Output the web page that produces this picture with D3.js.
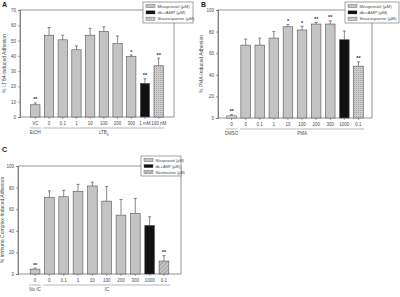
<!DOCTYPE html>
<html>
<head>
<meta charset="utf-8">
<script src="https://cdn.jsdelivr.net/npm/d3@7"></script>
<style>
  body { margin: 0; background: #fff; }
  svg { display: block; font-family: "Liberation Sans", Arial, sans-serif; }
</style>
</head>
<body>
<svg width="400" height="297"></svg>
<script>
// Panel A - LTB4
const labelsA = ["VC", "0", "0.1", "1", "10", "100", "200", "300", "1 mM", "100 nM"];
const valuesA = [8, 53.5, 50.5, 44, 53.5, 56, 48, 39.5, 22, 33.5];
const errorsA = [1.2, 5, 3, 2.5, 4.5, 3, 5, 1, 3, 5];
const signifA = ["**", "", "", "", "", "", "", "*", "**", "**"];
const kindsA = ["m", "m", "m", "m", "m", "m", "m", "m", "d", "s"];
const ticksA = [0, 10, 20, 30, 40, 50, 60, 70];

// Panel B - PMA
const labelsB = ["0", "0", "0.1", "1", "10", "100", "200", "300", "1000", "0.1"];
const valuesB = [2, 67.5, 67.5, 74, 84.5, 81.5, 87, 87, 72.5, 48];
const errorsB = [1, 5.5, 6.5, 6, 2, 3.5, 1.5, 3, 8, 4];
const signifB = ["**", "", "", "", "*", "*", "**", "**", "", "**"];
const kindsB = ["c", "m", "m", "m", "m", "m", "m", "m", "d", "s"];
const ticksB = [0, 20, 40, 60, 80, 100];

// Panel C - immune complex
const labelsC = ["0", "0", "0.1", "1", "10", "100", "200", "300", "1000", "0.1"];
const valuesC = [4.5, 71, 71.5, 76.5, 81.5, 67.5, 54.5, 56, 45, 12];
const errorsC = [1, 6, 6, 6.5, 3.5, 13.5, 14.5, 14, 8, 5];
const signifC = ["**", "", "", "", "", "", "", "", "", "**"];
const kindsC = ["m", "m", "m", "m", "m", "m", "m", "m", "d", "w"];
const ticksC = [0, 20, 40, 60, 80, 100];

const legendAB = ["Misoprostol (\u03bcM)", "db-cAMP (\u03bcM)", "Staurosporine (\u03bcM)"];
const legendC = ["Misoprostol (\u03bcM)", "db-cAMP (\u03bcM)", "Wortmannin (\u03bcM)"];

const svg = d3.select("svg");
const defs = svg.append("defs");

// motif pointillé (staurosporine)
const dots = defs.append("pattern")
  .attr("id", "dots").attr("width", 2).attr("height", 2)
  .attr("patternUnits", "userSpaceOnUse");
dots.append("rect").attr("width", 2).attr("height", 2).attr("fill", "#cdcdcd");
dots.append("rect").attr("width", 1).attr("height", 1).attr("fill", "#a4a4a4");

// motif hachuré (wortmannin)
const hatch = defs.append("pattern")
  .attr("id", "hatch").attr("width", 3).attr("height", 3)
  .attr("patternUnits", "userSpaceOnUse")
  .attr("patternTransform", "rotate(45)");
hatch.append("rect").attr("width", 3).attr("height", 3).attr("fill", "#c8c8c8");
hatch.append("line").attr("x1", 0).attr("y1", 0).attr("x2", 0).attr("y2", 3)
  .attr("stroke", "#777").attr("stroke-width", 1);

const fills = { m: "#c4c4c4", c: "#e4e4e4", d: "#111", s: "url(#dots)", w: "url(#hatch)" };
const textCol = "#4a4a4a";
const lineCol = "#666";

function drawPanel(p) {
  const g = svg.append("g");

  const x = d3.scaleBand()
    .domain(d3.range(p.values.length))
    .range([p.x0, p.x1])
    .paddingInner(0.32)
    .paddingOuter(p.outer);

  const y = d3.scaleLinear().domain([0, p.max]).range([p.yb, p.yt]);

  // cadre
  g.append("rect")
    .attr("x", p.x0).attr("y", p.yt)
    .attr("width", p.x1 - p.x0).attr("height", p.yb - p.yt)
    .attr("fill", "none").attr("stroke", lineCol).attr("stroke-width", 0.7);

  // axe y
  const yAxis = g.append("g")
    .attr("transform", `translate(${p.x0},0)`)
    .call(d3.axisLeft(y).tickValues(p.ticks).tickSize(2).tickPadding(2));
  yAxis.select(".domain").attr("stroke", lineCol).attr("stroke-width", 0.7);
  yAxis.selectAll(".tick line").attr("stroke", lineCol).attr("stroke-width", 0.6);
  yAxis.selectAll("text").attr("font-size", 4.5).attr("fill", textCol);

  // axe x
  const xAxis = g.append("g")
    .attr("transform", `translate(0,${p.yb})`)
    .call(d3.axisBottom(x).tickFormat(i => p.labels[i]).tickSize(2).tickPadding(2.5));
  xAxis.select(".domain").remove();
  xAxis.selectAll(".tick line").attr("stroke", lineCol).attr("stroke-width", 0.6);
  xAxis.selectAll("text").attr("font-size", 4.5).attr("fill", textCol);

  // barres d'erreur
  g.selectAll(".err")
    .data(p.values)
    .join("path")
    .attr("d", (v, i) => {
      const cx = x(i) + x.bandwidth() / 2;
      const top = y(v + p.errors[i]);
      return `M${cx},${y(v)}V${top}M${cx - 1.5},${top}H${cx + 1.5}`;
    })
    .attr("stroke", "#555").attr("stroke-width", 0.7).attr("fill", "none");

  // barres
  g.selectAll(".bar")
    .data(p.values)
    .join("rect")
    .attr("x", (v, i) => x(i))
    .attr("y", v => y(v))
    .attr("width", x.bandwidth())
    .attr("height", v => y(0) - y(v))
    .attr("fill", (v, i) => fills[p.kinds[i]])
    .attr("stroke", "#555").attr("stroke-width", 0.6);

  // astérisques
  g.selectAll(".sig")
    .data(p.values)
    .join("text")
    .attr("x", (v, i) => x(i) + x.bandwidth() / 2)
    .attr("y", (v, i) => y(v + p.errors[i]) - 1.5)
    .attr("text-anchor", "middle")
    .attr("font-size", 5.5).attr("font-weight", "bold").attr("fill", "#333")
    .text((v, i) => p.signif[i]);

  // groupes sous l'axe
  const lineY = p.yb + 11;
  const b0 = x(0), b1 = x(1), bN = x(p.values.length - 1) + x.bandwidth();
  [[b0 - 1, b0 + x.bandwidth() + 1, p.group0], [b1 - 1, bN + 1, p.group1]].forEach(([a, b, lab]) => {
    g.append("line").attr("x1", a).attr("x2", b).attr("y1", lineY).attr("y2", lineY)
      .attr("stroke", "#888").attr("stroke-width", 0.6);
    const t = g.append("text")
      .attr("x", (a + b) / 2).attr("y", lineY + 6)
      .attr("text-anchor", "middle").attr("font-size", 4.5).attr("fill", textCol);
    if (lab === "LTB4") {
      t.append("tspan").text("LTB");
      t.append("tspan").attr("font-size", 3.5).attr("dy", 1.5).text("4");
    } else {
      t.text(lab);
    }
  });

  // titre y
  g.append("text")
    .attr("transform", `translate(${p.ylabX},${(p.yt + p.yb) / 2}) rotate(-90)`)
    .attr("text-anchor", "middle").attr("font-size", 5).attr("fill", textCol)
    .text(p.ylabel);

  // lettre du panneau
  g.append("text")
    .attr("x", p.letter[0]).attr("y", p.letter[1])
    .attr("font-size", 7).attr("font-weight", "bold").attr("fill", "#222")
    .text(p.letterText);

  // légende
  const lg = g.append("g").attr("transform", `translate(${p.leg[0]},${p.leg[1]})`);
  lg.append("rect").attr("width", p.leg[2]).attr("height", p.leg[3])
    .attr("fill", "#fff").attr("stroke", lineCol).attr("stroke-width", 0.6);
  const legFills = [fills.m, fills.d, p.kinds[p.kinds.length - 1] === "w" ? fills.w : fills.s];
  p.legend.forEach((name, i) => {
    const ry = 4 + i * 6.3 * p.leg[3] / 21;
    lg.append("rect").attr("x", 3).attr("y", ry - 1.5).attr("width", 9).attr("height", 3.2)
      .attr("fill", legFills[i]).attr("stroke", "#555").attr("stroke-width", 0.4);
    lg.append("text").attr("x", 14.5).attr("y", ry + 1.5)
      .attr("font-size", p.legFont).attr("fill", textCol).text(name);
  });
}

drawPanel({
  labels: labelsA, values: valuesA, errors: errorsA, signif: signifA, kinds: kindsA,
  ticks: ticksA, max: 70, x0: 20, x1: 174, yt: 10, yb: 117, outer: 0.78,
  group0: "EtOH", group1: "LTB4", ylabel: "% LTB4-Induced Adhesion", ylabX: 6,
  letter: [2, 7], letterText: "A", leg: [143, 2, 50, 21], legFont: 4.3, legend: legendAB
});

drawPanel({
  labels: labelsB, values: valuesB, errors: errorsB, signif: signifB, kinds: kindsB,
  ticks: ticksB, max: 100, x0: 218, x1: 372, yt: 10, yb: 118, outer: 0.62,
  group0: "DMSO", group1: "PMA", ylabel: "% PMA-Induced Adhesion", ylabX: 203,
  letter: [201, 7], letterText: "B", leg: [345, 2, 54, 21], legFont: 4.3, legend: legendAB
});

drawPanel({
  labels: labelsC, values: valuesC, errors: errorsC, signif: signifC, kinds: kindsC,
  ticks: ticksC, max: 100, x0: 18, x1: 181, yt: 166, yb: 274, outer: 0.85,
  group0: "No IC", group1: "IC", ylabel: "% Immune Complex-Induced Adhesion", ylabX: 4,
  letter: [2, 152], letterText: "C", leg: [141, 156, 40, 20], legFont: 3.8, legend: legendC
});
</script>
</body>
</html>
